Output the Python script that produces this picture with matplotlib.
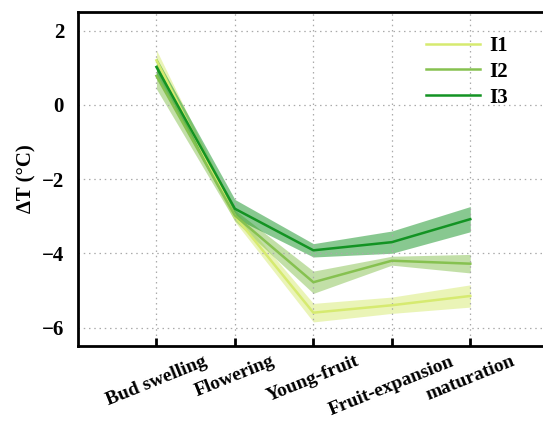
import numpy as np
import matplotlib
matplotlib.use("Agg")
import matplotlib.pyplot as plt

plt.rcParams['font.family'] = ['Liberation Serif', 'DejaVu Serif']
plt.rcParams['font.weight'] = 'bold'

# growth stages and temperature differences
stages = ['Bud swelling', 'Flowering', 'Young-fruit', 'Fruit-expansion', 'maturation']
i1_mean = [1.20, -3.00, -5.60, -5.40, -5.15]
i1_err = [0.28, 0.15, 0.25, 0.22, 0.30]
i2_mean = [0.78, -2.98, -4.78, -4.20, -4.28]
i2_err = [0.35, 0.15, 0.30, 0.12, 0.25]
i3_mean = [1.02, -2.80, -3.92, -3.70, -3.08]
i3_err = [0.25, 0.25, 0.18, 0.30, 0.34]

names = ['I1', 'I2', 'I3']
colors = ['#d6ea70', '#86c150', '#139323']

fig = plt.figure(figsize=(5.43, 4.21), dpi=100)
ax = fig.add_axes([0.1436, 0.178, 0.867, 0.7933])

x = np.arange(1, len(stages) + 1)
for name, m, e, c in zip(names, [i1_mean, i2_mean, i3_mean], [i1_err, i2_err, i3_err], colors):
    m = np.array(m)
    e = np.array(e)
    ax.fill_between(x, m - e, m + e, color=c, alpha=0.5, lw=0)
    ax.plot(x, m, color=c, lw=1.8, label=name)

ax.set_xlim(0, 6)
ax.set_ylim(-6.5, 2.5)
ax.set_yticks([-6, -4, -2, 0, 2])
ax.set_yticklabels(['\u22126', '\u22124', '\u22122', '0', '2'])
ax.set_xticks(x)
ax.set_xticklabels(stages, rotation=22, fontsize=14, fontweight='bold')
ax.tick_params(axis='x', direction='in', length=6, width=2, pad=5)
ax.tick_params(axis='y', length=0, labelsize=15, pad=10)
for lab in ax.get_yticklabels():
    lab.set_fontweight('bold')

ax.grid(True, ls=(0, (1.2, 3)), color='#aaaaaa', lw=0.9)
for s in ax.spines.values():
    s.set_linewidth(2)

ax.set_ylabel('\u2206T (\u00b0C)', fontsize=15, fontweight='bold', labelpad=4)

leg = ax.legend(loc='upper left', bbox_to_anchor=(0.70, 0.985), frameon=False,
                prop={'size': 15, 'weight': 'bold'}, handlelength=2.6,
                handletextpad=0.4, labelspacing=0.28)

fig.savefig('out.png', dpi=100)
